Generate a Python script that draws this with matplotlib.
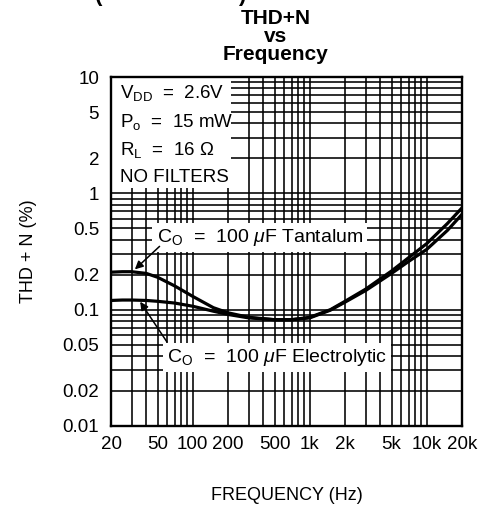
import matplotlib
matplotlib.use("Agg")
import matplotlib.pyplot as plt
from matplotlib.patches import Rectangle
from matplotlib.ticker import FixedLocator, FixedFormatter, LogLocator, NullFormatter

plt.rcParams['font.family'] = ['Liberation Sans', 'DejaVu Sans']
plt.rcParams['mathtext.fontset'] = 'custom'
plt.rcParams['mathtext.rm'] = 'Liberation Sans'
plt.rcParams['mathtext.it'] = 'Liberation Sans:italic'

freq = [20, 25, 30, 40, 50, 70, 100, 150, 200, 300, 500, 700, 1000,
        1500, 2000, 3000, 5000, 7000, 10000, 15000, 20000]
thd_tantalum = [0.21, 0.212, 0.212, 0.205, 0.19, 0.16, 0.13, 0.104, 0.094, 0.086,
                0.082, 0.082, 0.086, 0.1, 0.118, 0.15, 0.215, 0.28, 0.37, 0.55, 0.75]
thd_electrolytic = [0.12, 0.121, 0.121, 0.12, 0.118, 0.114, 0.107, 0.097, 0.091, 0.085,
                    0.082, 0.082, 0.085, 0.099, 0.116, 0.146, 0.205, 0.26, 0.33, 0.48, 0.66]

x_ticks = [20, 50, 100, 200, 500, 1000, 2000, 5000, 10000, 20000]
x_labels = ['20', '50', '100', '200', '500', '1k', '2k', '5k', '10k', '20k']
y_ticks = [0.01, 0.02, 0.05, 0.1, 0.2, 0.5, 1, 2, 5, 10]
y_labels = ['0.01', '0.02', '0.05', '0.1', '0.2', '0.5', '1', '2', '5', '10']

conditions = ["V$_{\\mathrm{DD}}$  =  2.6V", "P$_{\\mathrm{o}}$  =  15 mW",
              "R$_{\\mathrm{L}}$  =  16 $\\Omega$", "NO FILTERS"]
label_tantalum = "C$_{\\mathrm{O}}$  =  100 $\\mu$F Tantalum"
label_electrolytic = "C$_{\\mathrm{O}}$  =  100 $\\mu$F Electrolytic"

FS = 13.5

fig = plt.figure(figsize=(4.88, 5.12), dpi=100)
ax = fig.add_axes([111/488, 1 - 426/512, 351/488, 349/512])
ax.set_xscale('log')
ax.set_yscale('log')
ax.set_xlim(20, 20000)
ax.set_ylim(0.01, 10)

ax.xaxis.set_major_locator(FixedLocator(x_ticks))
ax.xaxis.set_major_formatter(FixedFormatter(x_labels))
ax.yaxis.set_major_locator(FixedLocator(y_ticks))
ax.yaxis.set_major_formatter(FixedFormatter(y_labels))
ax.xaxis.set_minor_locator(LogLocator(base=10, subs=range(1, 10), numticks=50))
ax.yaxis.set_minor_locator(LogLocator(base=10, subs=range(1, 10), numticks=50))
ax.xaxis.set_minor_formatter(NullFormatter())
ax.yaxis.set_minor_formatter(NullFormatter())
ax.tick_params(which='both', length=0, labelsize=FS)
ax.tick_params(axis='x', pad=7.5)
ax.tick_params(axis='y', pad=8.5)
ax.grid(True, which='both', color='black', linewidth=1.15)
for s in ax.spines.values():
    s.set_linewidth(1.7)

ax.plot(freq, thd_tantalum, color='black', linewidth=2.3, zorder=3)
ax.plot(freq, thd_electrolytic, color='black', linewidth=2.3, zorder=3)

# white background behind the conditions block
ax.add_patch(Rectangle((0, 0.683), 0.343, 0.317, transform=ax.transAxes,
                       facecolor='white', edgecolor='none', zorder=2.5))
for txt, yf in zip(conditions, [0.954, 0.871, 0.791, 0.713]):
    ax.text(0.026, yf, txt, transform=ax.transAxes, ha='left', va='center',
            fontsize=FS, zorder=4)

box = dict(facecolor='white', edgecolor='none', pad=3)
ax.text(49, 0.42, label_tantalum, fontsize=14, ha='left', va='center', bbox=box, zorder=4)
ax.text(60, 0.039, label_electrolytic, fontsize=14, ha='left', va='center', bbox=box, zorder=4)
arrow = dict(arrowstyle='-|>', color='black', lw=1.1, shrinkA=0, shrinkB=0, mutation_scale=12)
ax.annotate("", xy=(32, 0.222), xytext=(52, 0.35), arrowprops=arrow, zorder=5)
ax.annotate("", xy=(35.5, 0.117), xytext=(60, 0.053), arrowprops=arrow, zorder=5)

ax.set_xlabel("FREQUENCY (Hz)", fontsize=13, labelpad=24)
ax.set_ylabel("THD + N (%)", fontsize=13, labelpad=18)
fig.text(0.565, 1 - 36.5/512, "THD+N\nvs\nFrequency", ha='center', va='center',
         fontsize=15, fontweight='bold', linespacing=0.91)

# partially visible heading above the chart (cut off by the top edge)
fig.text(98.5/488, 1 - 6/512, "(", ha='center', va='bottom', fontsize=16, fontweight='bold')
fig.text(241.5/488, 1 - 6/512, ")", ha='center', va='bottom', fontsize=16, fontweight='bold')

fig.savefig("out.png", dpi=100)
